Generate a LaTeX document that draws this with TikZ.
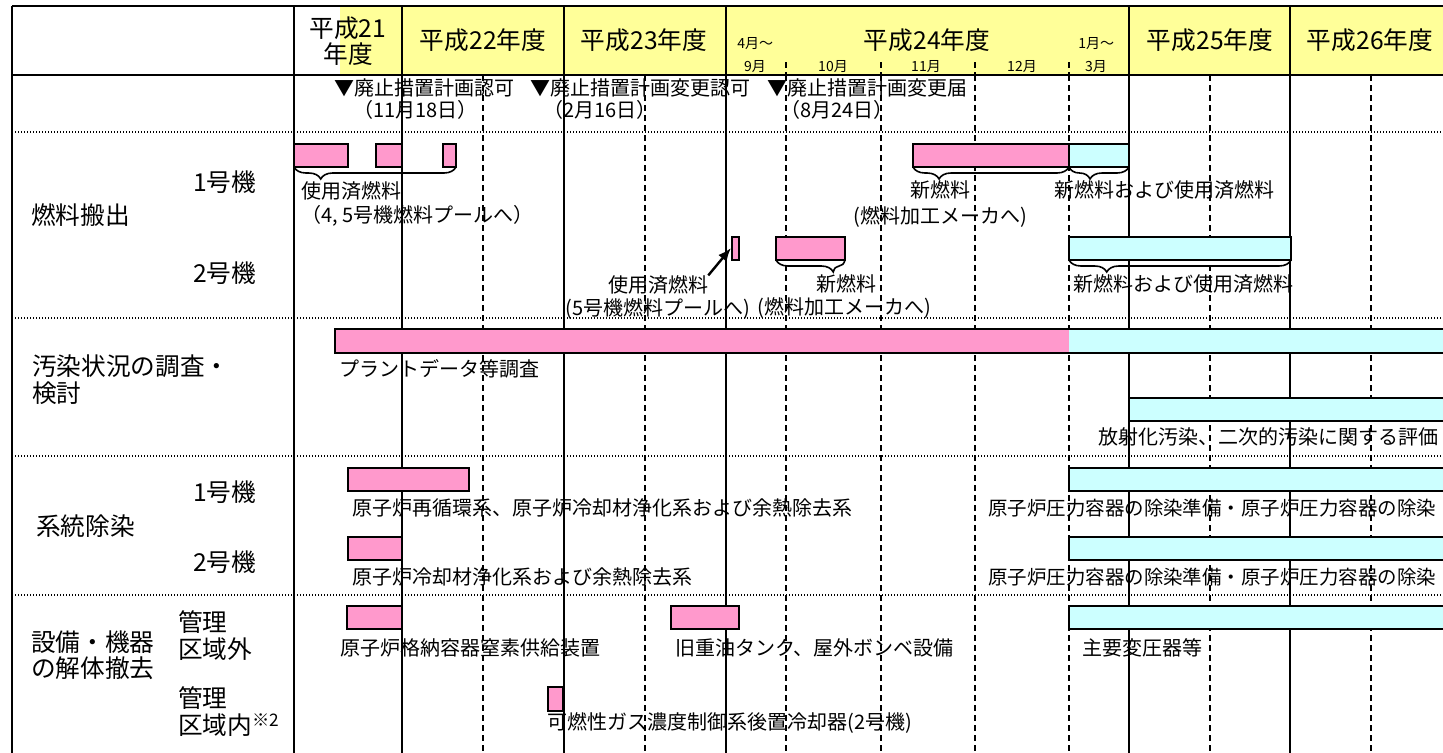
\documentclass[tikz,border=0pt]{standalone}
\usepackage{fontspec}
\setmainfont{Noto Sans CJK JP}
\usetikzlibrary{arrows.meta,decorations.pathreplacing}

\definecolor{barpink}{HTML}{FF99CC}
\definecolor{barcyan}{HTML}{CCFFFF}
\definecolor{headyellow}{HTML}{FFFF99}

\tikzset{
	solidline/.style={line width=1.5pt},
	dashline/.style={line width=1pt, dash pattern=on 4.5pt off 3pt},
	dotline/.style={line width=1pt, dash pattern=on 0.75pt off 1.5pt},
	pinkbar/.style={draw, line width=1.5pt, fill=barpink},
	cyanbar/.style={draw, line width=1.5pt, fill=barcyan},
	bigtext/.style={font=\fontsize{18.5pt}{22pt}\selectfont, inner sep=0pt},
	bartext/.style={font=\fontsize{15pt}{18pt}\selectfont, inner sep=0pt, anchor=west},
	monthtext/.style={font=\fontsize{10.5pt}{12pt}\selectfont, inner sep=0pt},
	bracestyle/.style={line width=1.2pt, decorate, decoration={brace, mirror, amplitude=9pt, aspect=#1}},
}

\begin{document}
\begin{tikzpicture}[x=0.75pt, y=-0.75pt]
					\useasboundingbox (0,0) rectangle (1443,753);
					\clip (0,0) rectangle (1443,753);
					% Header background
					\fill[headyellow] (340,6) rectangle (1443,75);
					% Define the grid
					\foreach \x in {483,645,786,881,975,1069,1210,1371} \draw[dashline] (\x,75) -- (\x,753);
					\foreach \x in {786,881,975,1069} \draw[dashline] (\x,62) -- (\x,75);
					\foreach \y in {132,318,456,595} \draw[dotline] (12,\y) -- (1443,\y);
					\foreach \x in {12,294,402,564,726,1129,1290} \draw[solidline] (\x,6) -- (\x,753);
					\draw[solidline] (12,6) -- (1443,6);
					\draw[solidline] (12,75) -- (1443,75);
					% Fiscal years
					\node[bigtext] (h21a) at (348,28) {平成21};
					\node[bigtext] (h21b) at (348,54) {年度};
					\foreach \x/\n in {483/22,644/23,927/24,1210/25,1370/26}
						\node[bigtext] (h\n) at (\x,40) {平成\n 年度};
					\node[monthtext, anchor=west] (m4) at (737,44) {4月～};
					\node[monthtext, anchor=west] (m1) at (1078,44) {1月～};
					\foreach \x/\m/\name in {755/9月/m9,833/10月/m10,926/11月/m11,1022/12月/m12,1096/3月/m3}
						\node[monthtext] (\name) at (\x,67) {\m};
					% Milestones
					\node[bartext] (permit) at (334,88) {▼廃止措置計画認可};
					\node[bartext] (permitday) at (353,110) {（11月18日）};
					\node[bartext] (change) at (530,88) {▼廃止措置計画変更認可};
					\node[bartext] (changeday) at (543,110) {（2月16日）};
					\node[bartext] (notice) at (767,88) {▼廃止措置計画変更届};
					\node[bartext] (noticeday) at (780,110) {（8月24日）};
					% Row labels
					\node[bigtext, anchor=west] (fuel) at (31,215) {燃料搬出};
					\node[bigtext, anchor=west] (fuelu1) at (193,182) {1号機};
					\node[bigtext, anchor=west] (fuelu2) at (193,273) {2号機};
					\node[bigtext, anchor=west] (survey) at (32,366) {汚染状況の調査・};
					\node[bigtext, anchor=west] (surveyb) at (32,393) {検討};
					\node[bigtext, anchor=west] (decon) at (36,526) {系統除染};
					\node[bigtext, anchor=west] (deconu1) at (193,492) {1号機};
					\node[bigtext, anchor=west] (deconu2) at (193,562) {2号機};
					\node[bigtext, anchor=west] (remove) at (31,642) {設備・機器};
					\node[bigtext, anchor=west] (removeb) at (31,668) {の解体撤去};
					\node[bigtext, anchor=west] (outa) at (178,622) {管理};
					\node[bigtext, anchor=west] (outb) at (178,649) {区域外};
					\node[bigtext, anchor=west] (ina) at (178,698) {管理};
					\node[bigtext, anchor=west] (inb) at (178,725) {区域内\textsuperscript{※2}};
					% Fuel removal, unit 1
					\draw[pinkbar] (294,144) rectangle (348,167);
					\draw[pinkbar] (376,144) rectangle (402,167);
					\draw[pinkbar] (443,144) rectangle (456,167);
					\draw[pinkbar] (913,144) rectangle (1069,167);
					\draw[cyanbar] (1069,144) rectangle (1129,167);
					\draw[bracestyle=0.165] (294,167) -- (456,167);
					\draw[bracestyle=0.167] (913,167) -- (1069,167);
					\draw[bracestyle=0.35] (1069,167) -- (1129,167);
					\node[bartext] (spent1) at (301,191) {使用済燃料};
					\node[bartext] (spent1b) at (301,216) {（4, 5号機燃料プールへ）};
					\node[bartext, anchor=center] (new1) at (940,190) {新燃料};
					\node[bartext, anchor=center] (new1b) at (940,217) {(燃料加工メーカへ)};
					\node[bartext, anchor=center] (mix1) at (1164,190) {新燃料および使用済燃料};
					% Fuel removal, unit 2
					\draw[pinkbar] (732,237) rectangle (739,260);
					\coordinate (sbar) at (731,248);
					\draw[pinkbar] (776,237) rectangle (845,260);
					\draw[cyanbar] (1069,237) rectangle (1291,260);
					\draw[bracestyle=0.83] (776,260) -- (845,260);
					\draw[bracestyle=0.17] (1069,260) -- (1291,260);
					\node[bartext, anchor=center] (spent2) at (658,285) {使用済燃料};
					\node[bartext, anchor=center] (spent2b) at (658,309) {(5号機燃料プールへ)};
					\draw[line width=1.8pt, -{Latex[length=10pt,width=8pt]}] (spent2.north east) -- (sbar);
					\node[bartext, anchor=center] (new2) at (846,284) {新燃料};
					\node[bartext, anchor=center] (new2b) at (844,308) {(燃料加工メーカへ)};
					\node[bartext, anchor=center] (mix2) at (1183,284) {新燃料および使用済燃料};
					% Survey
					\fill[barpink] (335,329) rectangle (1069,353);
					\fill[barcyan] (1069,329) rectangle (1450,353);
					\draw[solidline] (1450,329) -| (335,353) -- (1450,353);
					\node[bartext] (plant) at (339,369) {プラントデータ等調査};
					\draw[cyanbar] (1129,398) rectangle (1450,421);
					\node[bartext] (evalu) at (1098,437) {放射化汚染、二次的汚染に関する評価};
					% System decontamination
					\draw[pinkbar] (348,468) rectangle (469,491);
					\draw[cyanbar] (1069,468) rectangle (1450,491);
					\node[bartext] (loop1) at (352,508) {原子炉再循環系、原子炉冷却材浄化系および余熱除去系};
					\node[bartext, font=\fontsize{14.6pt}{18pt}\selectfont] (vessel1) at (988,508) {原子炉圧力容器の除染準備・原子炉圧力容器の除染};
					\draw[pinkbar] (348,537) rectangle (402,560);
					\draw[cyanbar] (1069,537) rectangle (1450,560);
					\node[bartext] (loop2) at (352,577) {原子炉冷却材浄化系および余熱除去系};
					\node[bartext, font=\fontsize{14.6pt}{18pt}\selectfont] (vessel2) at (988,577) {原子炉圧力容器の除染準備・原子炉圧力容器の除染};
					% Dismantling
					\draw[pinkbar] (347,606) rectangle (402,629);
					\draw[pinkbar] (671,606) rectangle (739,629);
					\draw[cyanbar] (1069,606) rectangle (1450,629);
					\draw[pinkbar] (548,687) rectangle (563,711);
					\node[bartext] (nitro) at (340,648) {原子炉格納容器窒素供給装置};
					\node[bartext] (tank) at (675,648) {旧重油タンク、屋外ボンベ設備};
					\node[bartext] (trans) at (1082,648) {主要変圧器等};
					\node[bartext] (gas) at (547,723) {可燃性ガス濃度制御系後置冷却器(2号機)};
				\end{tikzpicture}
\end{document}
